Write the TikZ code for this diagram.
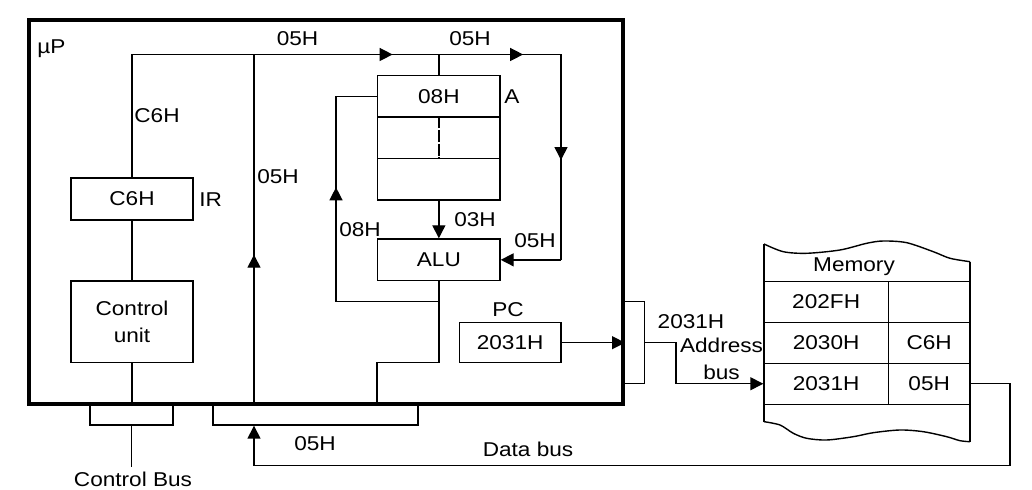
\documentclass[tikz,border=0pt]{standalone}
\usepackage{fontspec}
\setmainfont{Liberation Sans}[FakeStretch=1.13]
\usetikzlibrary{arrows.meta,positioning,decorations.markings}

\begin{document}
\begin{tikzpicture}[x=0.5pt, y=-0.5pt,
  font={\fontsize{10}{13.3}\selectfont},
  reg/.style={draw, line width=0.7pt, minimum width=61.15pt, minimum height=20.75pt, inner sep=0pt, align=center},
  cell/.style={draw, line width=0.7pt, minimum height=20.5pt, inner sep=0pt},
  brk/.style={draw, line width=0.7pt, inner sep=0pt},
  cpu/.style={draw, line width=2pt, inner sep=0pt, minimum width=297pt, minimum height=192pt},
  wire/.style={line width=0.7pt},
  arr/.style={wire, -{Triangle[length=6.5pt, width=6.5pt]}},
  midtip/.style={postaction={decorate, decoration={markings, mark=at position #1 with {\arrow{Triangle[length=6.5pt, width=6.5pt]}}}}},
  lbl/.style={inner sep=0pt}
]
\useasboundingbox (0,0) rectangle (1032,490);

% Microprocessor boundary
\node[cpu] (mp) at (326,212) {};
\node[lbl, anchor=west] (mplbl) at (37,49) {µP};

% Registers and units
\node[reg, minimum height=21pt] (ir) at (132,199) {C6H};
\node[lbl, anchor=west] (irlbl) at (199,200) {IR};
\node[reg, minimum height=40.85pt] (cu) at (132,321.85) {Control\\unit};
\node[reg] (a1) at (438.85,96.35) {08H};
\node[reg] (a2) at (438.85,137.85) {};
\node[reg] (a3) at (438.85,179.35) {};
\node[lbl, anchor=west] (albl) at (504,97) {A};
\node[reg, minimum height=20.85pt] (alu) at (438.85,259.85) {ALU};
\node[reg, minimum width=50.85pt, minimum height=20pt] (pc) at (510.15,342.7) {2031H};
\node[lbl] (pclbl) at (508,310) {PC};

% Bus brackets
\node[brk, minimum width=41.5pt, minimum height=10.5pt] (cbk) at (131.5,414.5) {};
\node[brk, minimum width=102.5pt, minimum height=10.5pt] (dbk) at (315.5,414.5) {};
\node[brk, minimum width=10.65pt, minimum height=40.8pt] (abk) at (633.65,342.5) {};

% Memory
\node[cell, minimum width=62.15pt] (r1a) at (826.15,301.75) {202FH};
\node[cell, minimum width=40.85pt] (r1b) at (929.15,301.75) {};
\node[cell, minimum width=62.15pt] (r2a) at (826.15,343) {2030H};
\node[cell, minimum width=40.85pt] (r2b) at (929.15,343) {C6H};
\node[cell, minimum width=62.15pt] (r3a) at (826.15,383.75) {2031H};
\node[cell, minimum width=40.85pt] (r3b) at (929.15,383.75) {05H};
\node[lbl] (memlbl) at (854,267) {Memory};
\draw[wire] (764,244) -- (764,421.7);
\draw[wire] (970,261.7) -- (970,441.7);
\draw[wire] plot[smooth] coordinates {(764,244) (783.3,251.7) (806.7,253.3) (840,250) (866.7,243.3) (883.3,241) (906.7,242.7) (933.3,251.7) (950,258.3) (970,261.7)};
\draw[wire] plot[smooth] coordinates {(764,421.7) (780,425) (793.3,433.3) (806.7,438.3) (826.7,440) (853.3,436.7) (873.3,432.7) (900,430) (923.3,431.7) (946.7,436.7) (960,440.7) (970,441.7)};

% Internal bus points
\coordinate (tj) at (254,54.5);
\coordinate (ta) at (438.85,54.5);
\coordinate (tr) at (561,54.5);
\coordinate (ar) at (561,259.85);
\coordinate (fb) at (438.85,301.7);
\coordinate (fbl) at (336,301.7);
\coordinate (ao) at (438.85,362.7);

% Data path inside the chip
\draw[wire] (ir.north) |- (tj);
\draw[wire, midtip=0.426] (tj |- dbk.north) -- (tj);
\draw[wire, midtip=0.75] (tj) -- (ta);
\draw[wire] (ta) -- (a1.north);
\draw[wire, midtip=0.69] (ta) -- (tr);
\draw[wire, midtip=0.514] (tr) -- (ar);
\draw[arr] (ar) -- (alu.east);
\draw[wire, dash pattern=on 6pt off 0.8pt] (a2.north) -- (a2.south);
\draw[arr] (a3.south) -- (alu.north);
\draw[wire, midtip=0.622] (fb) -- (fbl) |- (a1.west);
\draw[wire] (alu.south) -- (ao) -| (alu.west |- mp.south);
\draw[wire] (ir.south) -- (cu.north);
\draw[wire] (cu.south) -- (cu.south |- mp.south);
\draw[arr] (pc.east) -- (pc.east -| mp.east);

% Labels on the data path
\node[lbl] (l05a) at (297.5,39) {05H};
\node[lbl] (l05b) at (470,39) {05H};
\node[lbl] (lc6) at (157,115.5) {C6H};
\node[lbl] (l05c) at (278,177) {05H};
\node[lbl] (l08) at (360,230) {08H};
\node[lbl] (l03) at (475,220) {03H};
\node[lbl] (l05d) at (535,241) {05H};

% Control bus
\coordinate (cbe) at (131.5,467);
\draw[wire] (cbk.south) -- (cbe);
\node[lbl] (cblbl) at (133,479) {Control Bus};

% Address bus
\coordinate (ab) at (676,342.5);
\draw[arr] (abk.east) -- (ab) |- (r3a.west);
\node[lbl] (abv) at (691,321.5) {2031H};
\node[lbl, align=center] (ablbl) at (721.5,359) {Address\\bus};

% Data bus
\coordinate (dbr) at (1010,465.7);
\coordinate (dbl) at (254,465.7);
\draw[arr] (r3b.east) -| (dbr) -- (dbl) -- (dbl |- dbk.south);
\node[lbl] (dbv) at (315,444) {05H};
\node[lbl] (dblbl) at (528,449) {Data bus};
\end{tikzpicture}
\end{document}
